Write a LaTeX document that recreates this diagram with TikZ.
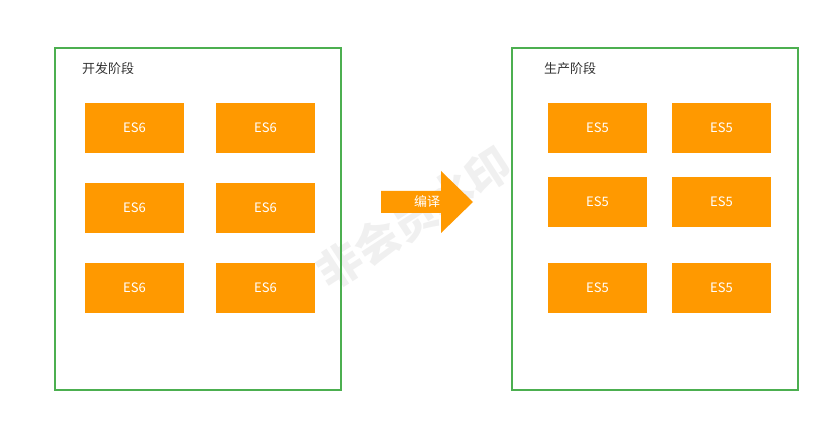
\documentclass[tikz,border=0pt]{standalone}
\usepackage{fontspec}
\setmainfont{Noto Sans CJK SC}
\usepackage{tikz}
\usepackage{xcolor}
\definecolor{stagegreen}{HTML}{4CAF50}
\definecolor{esorange}{HTML}{FF9900}
\definecolor{titlegray}{HTML}{333333}
\definecolor{markgray}{HTML}{F0F0F0}
\tikzset{
    stage-box/.style = {draw=stagegreen, line width=2pt, rectangle, minimum width=286pt, minimum height=342pt, inner sep=0pt},
    stage-title/.style = {text=titlegray, font=\fontsize{13}{15}\selectfont, anchor=west, inner sep=0pt},
    es-box/.style = {fill=esorange, text=white, rectangle, minimum width=99pt, minimum height=50pt, inner sep=0pt, font=\fontsize{13}{15}\selectfont},
}

\begin{document}
\begin{tikzpicture}[x=1pt,y=-1pt]
\useasboundingbox (0,0) rectangle (830,422);
% watermark
\node[text=markgray, font=\bfseries\fontsize{44}{44}\selectfont, rotate=33] (mark) at (414,218) {非会员水印};
% stages
\node[stage-box] (dev) at (198,219) {};
\node[stage-title] (dev-title) at (82,69) {开发阶段};
\node[stage-box] (prod) at (655,219) {};
\node[stage-title] (prod-title) at (544,69) {生产阶段};
% ES6 blocks
\foreach \row/\y in {1/128,2/208,3/288}{
    \node[es-box] (es6-\row-1) at (134.5,\y) {ES6};
    \node[es-box] (es6-\row-2) at (265.5,\y) {ES6};
}
% ES5 blocks
\foreach \row/\y in {1/128,2/202,3/288}{
    \node[es-box] (es5-\row-1) at (597.5,\y) {ES5};
    \node[es-box] (es5-\row-2) at (721.5,\y) {ES5};
}
% arrow
\fill[esorange] (381,191) -- (441,191) -- (441,171) -- (473,202) -- (441,233) -- (441,213) -- (381,213) -- cycle;
\node[text=white, font=\fontsize{13}{15}\selectfont, inner sep=0pt] (compile) at (427,202) {编译};
\end{tikzpicture}
\end{document}
